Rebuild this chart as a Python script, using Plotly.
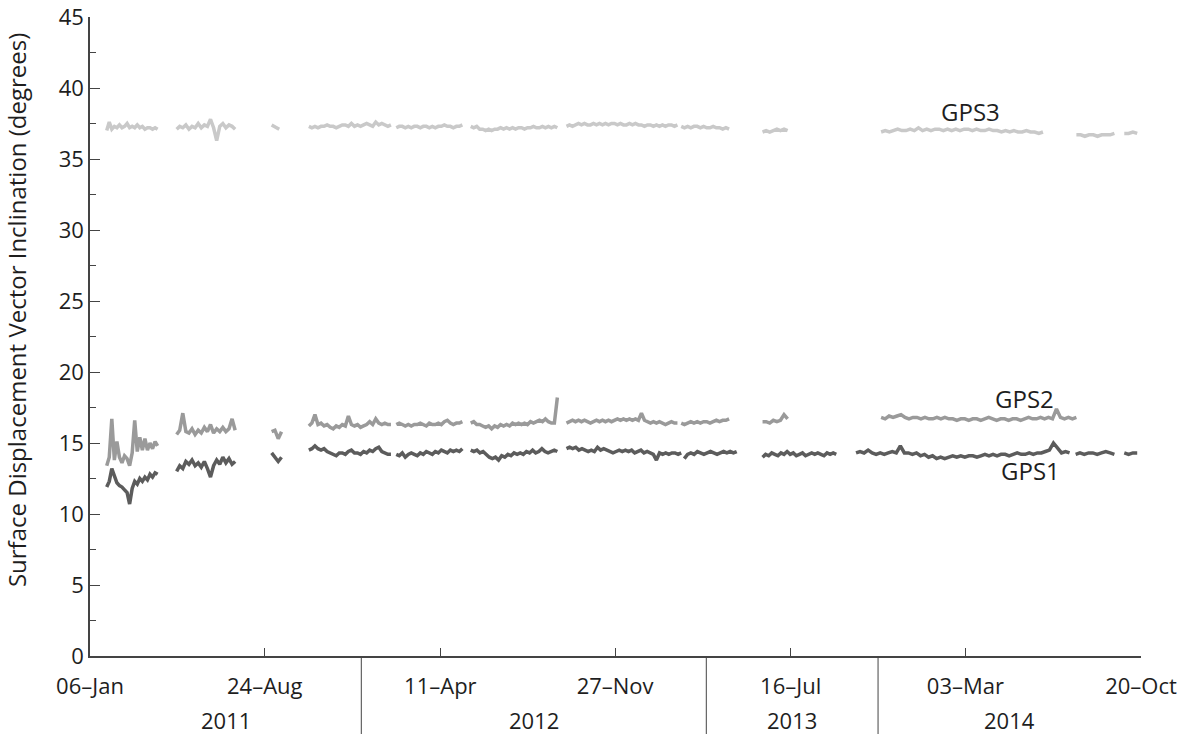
import pandas as pd
import plotly.graph_objects as go

# ---------------- data ----------------
# segment date bounds (start, end) per series; values spread evenly in each segment
GPS1_BOUNDS = [("2011-01-28", "2011-04-05"), ("2011-04-30", "2011-07-16"), ("2011-09-02", "2011-09-15"),
               ("2011-10-21", "2012-02-06"), ("2012-02-13", "2012-05-10"), ("2012-05-21", "2012-09-12"),
               ("2012-09-24", "2013-02-22"), ("2013-02-26", "2013-05-06"), ("2013-06-09", "2013-09-14"),
               ("2013-10-10", "2014-07-18"), ("2014-07-26", "2014-09-15"), ("2014-09-28", "2014-10-15")]
GPS1_S1 = [11.9, 12.3, 13.2, 12.6, 12.2, 12.0, 11.9, 11.7, 11.5, 10.7, 11.8, 12.3, 12.1, 12.5, 12.3, 12.6, 12.4, 12.8, 12.6, 12.9, 12.8]
GPS1_S2 = [13.0, 13.4, 13.2, 13.7, 13.5, 13.8, 13.4, 13.6, 13.3, 13.7, 13.2, 12.6, 13.4, 13.8, 13.5, 14.0, 13.6, 13.9, 13.5, 13.7]
GPS1_S3 = [14.3, 14.0, 13.7, 14.0]
GPS1_S4 = [14.5, 14.6, 14.8, 14.6, 14.5, 14.6, 14.4, 14.3, 14.2, 14.1, 14.3, 14.3, 14.2, 14.4, 14.5, 14.3, 14.3, 14.2, 14.4, 14.3, 14.5, 14.4, 14.6, 14.7, 14.4, 14.3, 14.2, 14.2]
GPS1_S5 = [14.2, 14.1, 14.3, 14.0, 14.2, 14.3, 14.2, 14.1, 14.3, 14.2, 14.4, 14.3, 14.2, 14.4, 14.3, 14.5, 14.4, 14.3, 14.5, 14.4, 14.5, 14.4, 14.6]
GPS1_S6 = [14.5, 14.4, 14.5, 14.3, 14.4, 14.2, 14.0, 13.9, 14.0, 13.8, 14.1, 14.0, 14.2, 14.1, 14.3, 14.2, 14.3, 14.2, 14.4, 14.3, 14.5, 14.3, 14.4, 14.6, 14.4, 14.3, 14.4, 14.5, 14.4]
GPS1_S7 = [14.6, 14.7, 14.6, 14.7, 14.5, 14.6, 14.5, 14.4, 14.5, 14.4, 14.7, 14.5, 14.6, 14.5, 14.4, 14.3, 14.4, 14.5, 14.4, 14.5, 14.4, 14.5, 14.3, 14.4, 14.5, 14.3, 14.4, 14.3, 14.2, 13.8, 14.3, 14.2, 14.3, 14.2, 14.3, 14.3, 14.2, 14.3]
GPS1_S8 = [13.9, 14.2, 14.3, 14.2, 14.4, 14.3, 14.2, 14.3, 14.4, 14.3, 14.2, 14.3, 14.4, 14.3, 14.4, 14.3, 14.4]
GPS1_S9 = [14.0, 14.2, 14.1, 14.3, 14.2, 14.1, 14.3, 14.2, 14.4, 14.2, 14.3, 14.1, 14.2, 14.3, 14.1, 14.2, 14.3, 14.2, 14.3, 14.2, 14.1, 14.3, 14.2, 14.3, 14.2]
GPS1_S10 = [14.3, 14.4, 14.3, 14.5, 14.3, 14.2, 14.3, 14.2, 14.3, 14.4, 14.3, 14.8, 14.3, 14.3, 14.2, 14.3, 14.1, 14.2, 14.0, 14.1, 13.9, 14.0, 13.9, 14.0, 14.1, 14.0, 14.1, 14.0, 14.1, 14.1, 14.0, 14.1, 14.2, 14.1, 14.2, 14.1, 14.2, 14.2, 14.1, 14.2, 14.3, 14.2, 14.2, 14.3, 14.2, 14.3, 14.3, 14.4, 14.5, 15.0, 14.6, 14.3, 14.4, 14.3]
GPS1_S11 = [14.2, 14.3, 14.2, 14.3, 14.3, 14.2, 14.3, 14.4, 14.3, 14.2]
GPS1_S12 = [14.3, 14.2, 14.3, 14.3]

GPS2_BOUNDS = [("2011-01-28", "2011-04-05"), ("2011-04-30", "2011-07-16"), ("2011-09-02", "2011-09-15"),
               ("2011-10-21", "2012-02-06"), ("2012-02-13", "2012-05-10"), ("2012-05-21", "2012-09-12"),
               ("2012-09-24", "2013-02-17"), ("2013-02-22", "2013-04-26"), ("2013-06-09", "2013-07-12"),
               ("2013-11-12", "2014-07-27")]
GPS2_S1 = [13.4, 14.0, 16.7, 13.8, 15.1, 14.0, 13.6, 14.1, 13.9, 13.4, 14.3, 16.6, 14.4, 15.4, 14.5, 15.3, 14.5, 15.0, 14.6, 15.1, 14.8]
GPS2_S2 = [15.6, 15.9, 17.1, 15.8, 15.7, 16.0, 15.6, 15.9, 15.7, 16.1, 15.8, 16.3, 15.7, 16.0, 15.8, 16.1, 15.8, 16.0, 16.7, 15.9]
GPS2_S3 = [15.8, 15.9, 15.3, 15.8]
GPS2_S4 = [16.2, 16.4, 17.0, 16.3, 16.4, 16.2, 16.3, 16.1, 16.0, 16.2, 16.1, 16.3, 16.2, 16.9, 16.3, 16.2, 16.3, 16.1, 16.2, 16.3, 16.5, 16.3, 16.7, 16.4, 16.3, 16.4, 16.3, 16.3]
GPS2_S5 = [16.3, 16.4, 16.3, 16.2, 16.3, 16.2, 16.3, 16.3, 16.4, 16.3, 16.2, 16.4, 16.3, 16.3, 16.4, 16.3, 16.5, 16.6, 16.4, 16.3, 16.4, 16.4, 16.5]
GPS2_S6 = [16.4, 16.5, 16.3, 16.3, 16.2, 16.1, 16.2, 16.0, 16.2, 16.1, 16.3, 16.2, 16.3, 16.2, 16.4, 16.3, 16.4, 16.3, 16.4, 16.3, 16.5, 16.4, 16.5, 16.6, 16.5, 16.7, 16.5, 16.4, 16.4, 18.2]
GPS2_S7 = [16.4, 16.5, 16.6, 16.5, 16.6, 16.5, 16.6, 16.5, 16.4, 16.5, 16.6, 16.5, 16.6, 16.5, 16.6, 16.5, 16.6, 16.7, 16.6, 16.7, 16.6, 16.7, 16.6, 16.7, 16.6, 17.1, 16.6, 16.5, 16.4, 16.5, 16.4, 16.5, 16.4, 16.3, 16.4, 16.5, 16.4, 16.4]
GPS2_S8 = [16.4, 16.3, 16.4, 16.5, 16.4, 16.5, 16.4, 16.5, 16.5, 16.4, 16.5, 16.6, 16.5, 16.6, 16.6, 16.7]
GPS2_S9 = [16.5, 16.5, 16.4, 16.6, 16.5, 16.6, 17.0, 16.7]
GPS2_S10 = [16.8, 16.7, 16.9, 16.8, 16.9, 17.0, 16.8, 16.7, 16.8, 16.8, 16.7, 16.8, 16.7, 16.7, 16.8, 16.7, 16.8, 16.7, 16.7, 16.6, 16.7, 16.7, 16.6, 16.7, 16.7, 16.6, 16.7, 16.8, 16.7, 16.6, 16.7, 16.7, 16.6, 16.7, 16.7, 16.6, 16.7, 16.8, 16.7, 16.7, 16.8, 16.7, 16.8, 16.7, 17.4, 16.8, 16.7, 16.8, 16.7, 16.8]

GPS3_BOUNDS = [("2011-01-28", "2011-04-05"), ("2011-04-30", "2011-07-16"), ("2011-09-02", "2011-09-12"),
               ("2011-10-21", "2012-02-06"), ("2012-02-13", "2012-05-10"), ("2012-05-21", "2012-09-12"),
               ("2012-09-24", "2013-02-17"), ("2013-02-22", "2013-04-26"), ("2013-06-09", "2013-07-12"),
               ("2013-11-12", "2014-06-13"), ("2014-07-27", "2014-09-15"), ("2014-09-28", "2014-10-15")]
GPS3_S1 = [37.0, 37.6, 37.1, 37.3, 37.2, 37.4, 37.2, 37.3, 37.5, 37.2, 37.3, 37.2, 37.4, 37.2, 37.3, 37.1, 37.2, 37.2, 37.1, 37.2, 37.1]
GPS3_S2 = [37.1, 37.3, 37.2, 37.4, 37.1, 37.3, 37.2, 37.5, 37.2, 37.4, 37.3, 37.8, 37.2, 36.3, 37.3, 37.5, 37.2, 37.4, 37.3, 37.1]
GPS3_S3 = [37.4, 37.3, 37.2, 37.1]
GPS3_S4 = [37.3, 37.2, 37.3, 37.2, 37.3, 37.3, 37.4, 37.3, 37.3, 37.2, 37.3, 37.4, 37.4, 37.3, 37.5, 37.3, 37.4, 37.3, 37.4, 37.5, 37.4, 37.3, 37.6, 37.4, 37.5, 37.4, 37.3, 37.4]
GPS3_S5 = [37.2, 37.3, 37.3, 37.2, 37.3, 37.2, 37.3, 37.3, 37.2, 37.3, 37.3, 37.2, 37.3, 37.2, 37.3, 37.3, 37.4, 37.3, 37.3, 37.2, 37.3, 37.3, 37.4]
GPS3_S6 = [37.3, 37.2, 37.3, 37.1, 37.1, 37.0, 37.1, 37.0, 37.1, 37.1, 37.2, 37.1, 37.2, 37.1, 37.2, 37.1, 37.2, 37.2, 37.1, 37.2, 37.2, 37.3, 37.2, 37.2, 37.3, 37.2, 37.3, 37.2, 37.3, 37.2]
GPS3_S7 = [37.3, 37.4, 37.3, 37.4, 37.5, 37.4, 37.5, 37.4, 37.4, 37.5, 37.4, 37.5, 37.4, 37.5, 37.4, 37.5, 37.5, 37.4, 37.5, 37.4, 37.4, 37.5, 37.4, 37.5, 37.4, 37.4, 37.3, 37.4, 37.4, 37.3, 37.4, 37.3, 37.4, 37.3, 37.4, 37.4, 37.3, 37.4]
GPS3_S8 = [37.3, 37.2, 37.3, 37.2, 37.3, 37.3, 37.2, 37.3, 37.2, 37.2, 37.3, 37.2, 37.2, 37.1, 37.2, 37.1]
GPS3_S9 = [36.9, 37.0, 36.9, 37.0, 37.1, 37.0, 37.1, 37.0]
GPS3_S10 = [36.9, 37.0, 36.9, 37.0, 37.1, 37.0, 37.0, 37.1, 37.0, 37.2, 37.0, 37.1, 37.0, 37.1, 37.1, 37.0, 37.1, 37.0, 37.1, 37.0, 37.1, 37.1, 37.0, 37.1, 37.0, 37.0, 37.1, 37.0, 37.0, 36.9, 37.0, 36.9, 37.0, 36.9, 36.9, 37.0, 36.9, 36.9, 36.8, 36.9]
GPS3_S11 = [36.7, 36.7, 36.6, 36.7, 36.7, 36.6, 36.7, 36.7, 36.7, 36.8]
GPS3_S12 = [36.8, 36.8, 36.9, 36.8]

GPS1_SEGS = [GPS1_S1, GPS1_S2, GPS1_S3, GPS1_S4, GPS1_S5, GPS1_S6, GPS1_S7, GPS1_S8, GPS1_S9, GPS1_S10, GPS1_S11, GPS1_S12]
GPS2_SEGS = [GPS2_S1, GPS2_S2, GPS2_S3, GPS2_S4, GPS2_S5, GPS2_S6, GPS2_S7, GPS2_S8, GPS2_S9, GPS2_S10]
GPS3_SEGS = [GPS3_S1, GPS3_S2, GPS3_S3, GPS3_S4, GPS3_S5, GPS3_S6, GPS3_S7, GPS3_S8, GPS3_S9, GPS3_S10, GPS3_S11, GPS3_S12]

TICK_DATES = ["2011-01-06", "2011-08-24", "2012-04-11", "2012-11-27", "2013-07-16", "2014-03-03", "2014-10-20"]
TICK_TEXT = ["06\u2013Jan", "24\u2013Aug", "11\u2013Apr", "27\u2013Nov", "16\u2013Jul", "03\u2013Mar", "20\u2013Oct"]
YEAR_LABELS = ["2011", "2012", "2013", "2014"]
YEAR_BOUNDS = ["2011-01-06", "2011-12-29", "2013-03-27", "2013-11-08", "2014-10-20"]

SERIES_NAMES = ["GPS3", "GPS2", "GPS1"]
SERIES_COLORS = ["#c9c9c9", "#9a9a9a", "#5c5c5c"]
LABEL_POS = [("2014-03-09", 38.35), ("2014-05-20", 18.1), ("2014-05-27", 13.05)]

FONT = "Open Sans"
TXT = "#1e1e1e"


def build(bounds, segs):
    xs, ys = [], []
    for (s, e), vals in zip(bounds, segs):
        d = pd.date_range(s, e, periods=len(vals))
        xs += list(d) + [None]
        ys += list(vals) + [None]
    return xs, ys


fig = go.Figure()
for name, color, bounds, segs in zip(SERIES_NAMES, SERIES_COLORS,
                                     [GPS3_BOUNDS, GPS2_BOUNDS, GPS1_BOUNDS],
                                     [GPS3_SEGS, GPS2_SEGS, GPS1_SEGS]):
    x, y = build(bounds, segs)
    fig.add_trace(go.Scatter(x=x, y=y, mode="lines", name=name, connectgaps=False,
                             line=dict(color=color, width=3.5), showlegend=False))

for name, (d, v) in zip(SERIES_NAMES, LABEL_POS):
    fig.add_annotation(x=d, y=v, xref="x", yref="y", text=name, showarrow=False,
                       font=dict(family=FONT, size=24, color=TXT))

# year separators and labels
for b in YEAR_BOUNDS[1:-1]:
    fig.add_shape(type="line", xref="x", yref="paper", x0=b, x1=b, y0=0, y1=-0.125,
                  line=dict(color="#444444", width=1))
for i, lab in enumerate(YEAR_LABELS):
    a = pd.Timestamp(YEAR_BOUNDS[i]); b = pd.Timestamp(YEAR_BOUNDS[i + 1])
    mid = a + (b - a) / 2
    fig.add_annotation(x=mid, y=-0.1, xref="x", yref="paper", text=lab, showarrow=False,
                       yanchor="middle", font=dict(family=FONT, size=22, color=TXT))

fig.add_annotation(x=-0.07, y=0.542, xref="paper", yref="paper", textangle=-90,
                   xanchor="center", yanchor="middle",
                   text="Surface Displacement Vector Inclination (degrees)", showarrow=False,
                   font=dict(family=FONT, size=24, color=TXT))

fig.update_layout(
    width=1187, height=734,
    margin=dict(l=90, r=46, t=17, b=78, autoexpand=False),
    paper_bgcolor="white", plot_bgcolor="white",
    font=dict(family=FONT, size=22, color=TXT),
)
fig.update_xaxes(
    type="date", range=[TICK_DATES[0], TICK_DATES[-1]],
    tickvals=TICK_DATES, ticktext=TICK_TEXT,
    ticks="inside", ticklen=8, tickwidth=1, tickcolor="#444444",
    ticklabelstandoff=10,
    showline=True, linecolor="#444444", linewidth=1.5,
    showgrid=False, zeroline=False, automargin=False,
    tickfont=dict(family=FONT, size=22, color=TXT),
)
fig.update_yaxes(
    range=[0, 45], tickvals=[0, 5, 10, 15, 20, 25, 30, 35, 40, 45],
    ticks="inside", ticklen=10, tickwidth=1, tickcolor="#444444",
    minor=dict(tickvals=[2.5, 7.5, 12.5, 17.5, 22.5, 27.5, 32.5, 37.5, 42.5],
               ticks="inside", ticklen=6, tickcolor="#444444"),
    showline=True, linecolor="#444444", linewidth=1.5,
    showgrid=False, zeroline=False, automargin=False,
    tickfont=dict(family=FONT, size=22, color=TXT),
)

fig.write_html("out.html")
